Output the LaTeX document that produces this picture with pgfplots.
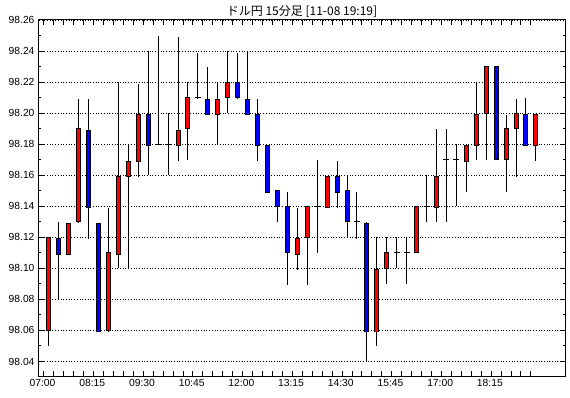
\documentclass[border=0pt]{standalone}
\usepackage{pgfplots}
\pgfplotsset{compat=1.18}
\usepackage{pgfplotstable}
\usepackage{fontspec}
\setmainfont{Liberation Sans}
\newfontfamily\cjk{Noto Sans CJK JP}
\usetikzlibrary{plotmarks}
\definecolor{upred}{RGB}{255,0,0}
\definecolor{dnblue}{RGB}{0,0,255}

% i  open  high  low  close
\pgfplotstableread{
i O H L C
0 98.06 98.12 98.05 98.12
2 98.11 98.13 98.11 98.13
3 98.13 98.21 98.13 98.19
6 98.06 98.14 98.06 98.11
7 98.11 98.22 98.10 98.16
8 98.16 98.18 98.10 98.17
9 98.17 98.22 98.16 98.20
13 98.18 98.25 98.17 98.19
14 98.19 98.22 98.17 98.21
17 98.20 98.22 98.18 98.21
18 98.21 98.24 98.20 98.22
25 98.11 98.14 98.10 98.12
26 98.12 98.14 98.09 98.14
28 98.14 98.16 98.14 98.16
33 98.06 98.12 98.05 98.10
34 98.10 98.12 98.09 98.11
37 98.11 98.14 98.11 98.14
39 98.14 98.19 98.13 98.16
42 98.17 98.18 98.15 98.18
43 98.18 98.22 98.17 98.20
44 98.20 98.23 98.17 98.23
46 98.17 98.20 98.15 98.19
47 98.19 98.21 98.16 98.20
49 98.18 98.20 98.17 98.20
}\uptab

\pgfplotstableread{
i O H L C
1 98.12 98.13 98.08 98.11
4 98.19 98.21 98.12 98.14
5 98.13 98.13 98.06 98.06
10 98.20 98.24 98.16 98.18
16 98.21 98.23 98.20 98.20
19 98.22 98.24 98.21 98.21
20 98.21 98.24 98.20 98.20
21 98.20 98.21 98.17 98.18
22 98.18 98.18 98.15 98.15
23 98.15 98.15 98.13 98.14
24 98.14 98.15 98.09 98.11
29 98.16 98.17 98.14 98.15
30 98.15 98.16 98.12 98.13
32 98.13 98.13 98.04 98.06
45 98.23 98.23 98.17 98.17
48 98.20 98.21 98.18 98.18
}\downtab

\pgfplotstableread{
i O H L C
11 98.18 98.25 98.18 98.18
12 98.18 98.20 98.16 98.18
15 98.21 98.24 98.21 98.21
27 98.14 98.17 98.11 98.14
31 98.13 98.15 98.12 98.13
35 98.11 98.12 98.10 98.11
36 98.11 98.12 98.09 98.11
38 98.14 98.16 98.13 98.14
40 98.17 98.19 98.13 98.17
41 98.17 98.18 98.14 98.17
}\dojitab

\pgfplotsset{
  wick/.style={draw=none, mark=none, forget plot,
    error bars/.cd, y dir=both, y explicit, error mark=none,
    error bar style={draw=black, line width=1pt}},
  body/.style={draw=none, mark=none, forget plot,
    error bars/.cd, y dir=both, y explicit, error mark=none,
    error bar style={draw=#1, line width=5pt}},
  fillbody/.style={draw=none, mark=none, forget plot,
    error bars/.cd, y dir=both, y explicit, error mark=none,
    error bar style={draw=#1, line width=3pt}},
}

\begin{document}
\begin{tikzpicture}
\begin{axis}[
  scale only axis,
  width=526pt, height=357pt,
  xmin=-0.99, xmax=51.93,
  ymin=98.03, ymax=98.26,
  axis line style={black, line width=1pt},
  tick align=inside,
  tick style={black, line width=1pt},
  major tick length=5.5pt,
  minor tick length=2.5pt,
  xtick={-0.5,0.5,...,48.5},
  xticklabels={07:00,{},{},{},{},08:15,{},{},{},{},09:30,{},{},{},{},10:45,{},{},{},{},12:00,{},{},{},{},13:15,{},{},{},{},14:30,{},{},{},{},15:45,{},{},{},{},17:00,{},{},{},{},18:15,{},{},{},{}},
  xtick pos=both,
  xticklabel pos=lower,
  ytick={98.04,98.06,98.08,98.10,98.12,98.14,98.16,98.18,98.20,98.22,98.24,98.26},
  minor ytick={98.05,98.07,98.09,98.11,98.13,98.15,98.17,98.19,98.21,98.23,98.25},
  ytick pos=both,
  yticklabel pos=left,
  yticklabel style={/pgf/number format/fixed, /pgf/number format/fixed zerofill,
     /pgf/number format/precision=2, xshift=-1pt},
  /pgf/number format/assume math mode=true,
  ticklabel style={font=\fontsize{10.3}{12}\selectfont, black},
  xticklabel style={yshift=1pt, xshift=-1.3pt},
  ymajorgrids,
  major grid style={black, line width=0.8pt, dash pattern=on 0.9pt off 1.8pt},
  title={\cjk ドル円 15分足 [11-08 19:19]},
  title style={at={(0.5,1)}, anchor=center, yshift=2pt, font=\fontsize{12}{14}\selectfont},
  clip=false,
]
% wicks
\addplot[wick] table[x=i, y expr={(\thisrow{H}+\thisrow{L})/2},
        y error expr={(\thisrow{H}-\thisrow{L})/2}] {\uptab};
\addplot[wick] table[x=i, y expr={(\thisrow{H}+\thisrow{L})/2},
        y error expr={(\thisrow{H}-\thisrow{L})/2}] {\downtab};
\addplot[wick] table[x=i, y expr={(\thisrow{H}+\thisrow{L})/2},
        y error expr={(\thisrow{H}-\thisrow{L})/2}] {\dojitab};
% body outlines
\addplot[body=black] table[x=i, y expr={(\thisrow{O}+\thisrow{C})/2},
        y error expr={abs(\thisrow{C}-\thisrow{O})/2+0.0003}] {\uptab};
\addplot[body=black] table[x=i, y expr={(\thisrow{O}+\thisrow{C})/2},
        y error expr={abs(\thisrow{C}-\thisrow{O})/2+0.0003}] {\downtab};
% body fills
\addplot[fillbody=upred] table[x=i, y expr={(\thisrow{O}+\thisrow{C})/2},
        y error expr={abs(\thisrow{C}-\thisrow{O})/2-0.0003}] {\uptab};
\addplot[fillbody=dnblue] table[x=i, y expr={(\thisrow{O}+\thisrow{C})/2},
        y error expr={abs(\thisrow{C}-\thisrow{O})/2-0.0003}] {\downtab};
% doji stubs
\addplot[only marks, mark=-, mark size=3pt, mark options={draw=black, line width=1pt}]
  table[x=i, y=O] {\dojitab};
\end{axis}
\pgfresetboundingbox
\path[use as bounding box] ([shift={(-39pt,-21pt)}]current axis.south west)
  rectangle ([shift={(5pt,20pt)}]current axis.north east);
\end{tikzpicture}
\end{document}
